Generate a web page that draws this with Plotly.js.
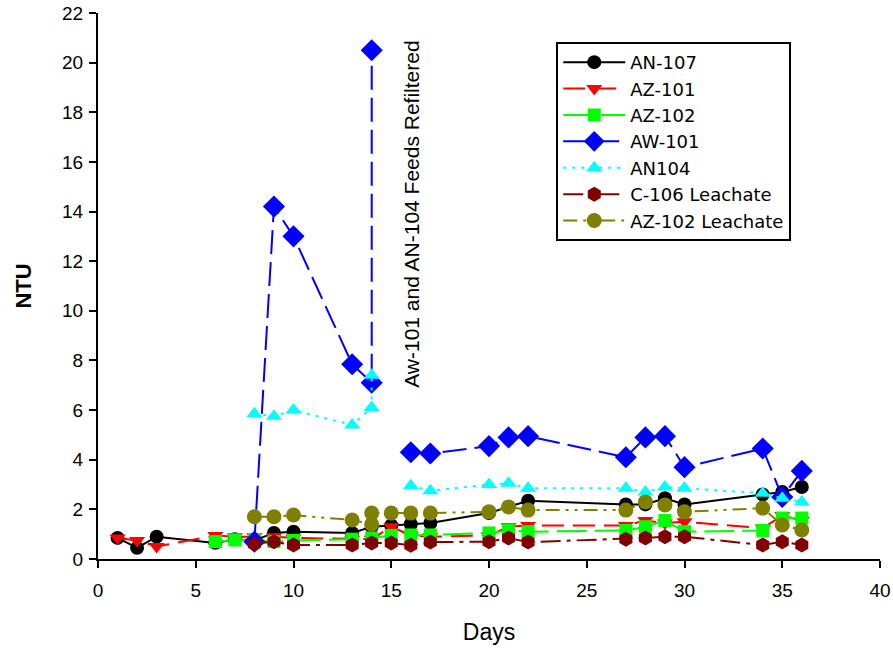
<!DOCTYPE html>
<html>
<head>
<meta charset="utf-8">
<script src="https://cdn.plot.ly/plotly-3.0.1.min.js"></script>
<style>html,body{margin:0;padding:0;background:#fff;}#chart{width:893px;height:650px;}</style>
</head>
<body>
<div id="chart"></div>
<script>
// ---- data ----
const an107Days = [1, 2, 3, 6, 7, 8, 9, 10, 13, 14, 15, 16, 17, 20, 21, 22, 27, 28, 29, 30, 34, 35, 36];
const an107NTU  = [0.85, 0.45, 0.9, 0.65, 0.8, 0.75, 1.05, 1.1, 1.05, 1.3, 1.35, 1.4, 1.45, 1.85, 2.1, 2.35, 2.2, 2.2, 2.45, 2.2, 2.6, 2.7, 2.9];

const az101Days = [1, 2, 3, 6, 7, 8, 9, 10, 13, 14, 15, 16, 17, 20, 21, 22, 27, 28, 29, 30, 34, 35, 36];
const az101NTU  = [0.85, 0.75, 0.5, 0.95, 0.9, 0.9, 0.9, 0.85, 0.8, 0.8, 1.3, 0.95, 0.9, 0.95, 1.3, 1.35, 1.35, 1.55, 1.45, 1.5, 1.25, 1.75, 1.55];

const az102Days = [6, 7, 8, 9, 10, 13, 14, 15, 16, 17, 20, 21, 22, 27, 28, 29, 30, 34, 35, 36];
const az102NTU  = [0.7, 0.77, 0.77, 0.7, 0.75, 0.8, 0.85, 0.95, 0.97, 0.97, 1.05, 1.15, 1.1, 1.15, 1.3, 1.55, 1.1, 1.15, 1.65, 1.65];

const aw101Days = [8, 9, 10, 13, 14, 14, null, 16, 17, 20, 21, 22, 27, 28, 29, 30, 34, 35, 36];
const aw101NTU  = [0.7, 14.2, 13.0, 7.85, 7.1, 20.5, null, 4.3, 4.25, 4.55, 4.9, 4.95, 4.1, 4.9, 4.95, 3.7, 4.45, 2.5, 3.55];

const an104Days = [8, 9, 10, 13, 14, 14, null, 16, 17, 20, 21, 22, 27, 28, 29, 30, 34, 35, 36];
const an104NTU  = [5.85, 5.75, 6.0, 5.4, 6.1, 7.4, null, 2.95, 2.75, 3.0, 3.05, 2.85, 2.85, 2.7, 2.9, 2.85, 2.65, 2.45, 2.3];

const c106Days = [8, 9, 10, 13, 14, 15, 16, 17, 20, 21, 22, 27, 28, 29, 30, 34, 35, 36];
const c106NTU  = [0.6, 0.7, 0.56, 0.56, 0.64, 0.64, 0.55, 0.68, 0.7, 0.85, 0.68, 0.8, 0.85, 0.9, 0.9, 0.56, 0.7, 0.56];

const az102LDays = [8, 9, 10, 13, 14, 14, 15, 16, 17, 20, 21, 22, 27, 28, 29, 30, 34, 35, 36];
const az102LNTU  = [1.7, 1.7, 1.77, 1.57, 1.4, 1.85, 1.85, 1.85, 1.85, 1.9, 2.1, 1.97, 1.97, 2.3, 2.18, 1.9, 2.05, 1.37, 1.17];

const seriesNames = ["AN-107", "AZ-101", "AZ-102", "AW-101", "AN104", "C-106 Leachate", "AZ-102 Leachate"];
const annotationText = "Aw-101 and AN-104 Feeds Refiltered";
const xTitle = "Days";
const yTitle = "NTU";

// ---- traces ----
const FONT = "Liberation Sans, Arial, sans-serif";
function tr(name, x, y, color, symbol, dash, size) {
  return {
    type: "scatter", mode: "lines+markers", name: name, x: x, y: y,
    connectgaps: false,
    line: {color: color, width: 2, dash: dash},
    marker: {color: color, symbol: symbol, size: size, line: {width: 0}}
  };
}
const data = [
  tr(seriesNames[0], an107Days, an107NTU, "#000000", "circle", "solid", 14),
  tr(seriesNames[1], az101Days, az101NTU, "#ff0000", "triangle-down", "22px,9px", 14),
  tr(seriesNames[2], az102Days, az102NTU, "#00ff00", "square", "30px,8px", 13),
  tr(seriesNames[3], aw101Days, aw101NTU, "#0000ff", "diamond", "24px,8px", 17),
  tr(seriesNames[4], an104Days, an104NTU, "#00ffff", "triangle-up", "3px,6px", 14),
  tr(seriesNames[5], c106Days, c106NTU, "#800000", "hexagon", "20px,6px,4px,6px", 15),
  tr(seriesNames[6], az102LDays, az102LNTU, "#808000", "circle", "14px,6px,3px,6px,3px,6px", 15)
];

const layout = {
  width: 893, height: 650,
  margin: {l: 98, r: 13, t: 13, b: 91},
  paper_bgcolor: "#fff", plot_bgcolor: "#fff",
  font: {family: FONT, size: 18, color: "#000"},
  showlegend: true,
  legend: {
    x: 0.586, y: 0.947, xanchor: "left", yanchor: "top",
    bgcolor: "#fff", bordercolor: "#000", borderwidth: 2,
    font: {family: "DejaVu Sans, " + FONT, size: 18, color: "#000"},
    tracegroupgap: 0, itemwidth: 62
  },
  xaxis: {
    range: [0, 40], dtick: 5, tick0: 0,
    showgrid: false, zeroline: false,
    showline: true, linecolor: "#000", linewidth: 2,
    ticks: "outside", ticklen: 7, tickwidth: 2, tickcolor: "#000",
    tickfont: {family: FONT, size: 19}, ticklabelstandoff: 6,
    title: {text: xTitle, font: {family: FONT, size: 23}, standoff: 24}
  },
  yaxis: {
    range: [0, 22], dtick: 2, tick0: 0,
    showgrid: false, zeroline: false,
    showline: true, linecolor: "#000", linewidth: 2,
    ticks: "outside", ticklen: 7, tickwidth: 2, tickcolor: "#000",
    tickfont: {family: FONT, size: 19}, ticklabelstandoff: 2,
    title: {text: "<b>" + yTitle + "</b>", font: {family: FONT, size: 22}, standoff: 24}
  },
  annotations: [{
    text: annotationText, x: 16.0, y: 13.9, xref: "x", yref: "y",
    showarrow: false, textangle: -90,
    font: {family: FONT, size: 21, color: "#000"}
  }]
};

Plotly.newPlot("chart", data, layout, {displayModeBar: false, staticPlot: true});
</script>
</body>
</html>
